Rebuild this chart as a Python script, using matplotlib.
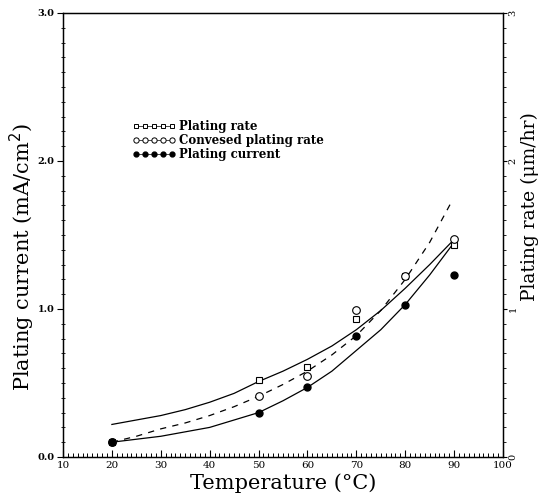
import matplotlib
matplotlib.use("Agg")
import matplotlib.pyplot as plt
from matplotlib.lines import Line2D
from matplotlib.ticker import MultipleLocator

# measured points
temp = [20, 50, 60, 70, 80, 90]
plating_rate = [0.10, 0.52, 0.61, 0.93, 1.22, 1.43]
conv_rate = [0.10, 0.41, 0.55, 0.99, 1.22, 1.47]
plating_current = [0.10, 0.30, 0.47, 0.82, 1.03, 1.23]

# fitted curves, every 5 degrees
fit_t = [20, 25, 30, 35, 40, 45, 50, 55, 60, 65, 70, 75, 80, 85, 90]
fit_upper = [0.22, 0.25, 0.28, 0.32, 0.37, 0.43, 0.51, 0.58, 0.66, 0.75, 0.86, 0.99, 1.14, 1.30, 1.47]
fit_lower = [0.10, 0.12, 0.14, 0.17, 0.20, 0.25, 0.30, 0.38, 0.47, 0.58, 0.72, 0.86, 1.03, 1.23, 1.45]
dash_t = [20, 25, 30, 35, 40, 45, 50, 55, 60, 65, 70, 75, 80, 85, 89.4]
fit_dash = [0.10, 0.14, 0.19, 0.23, 0.28, 0.34, 0.41, 0.49, 0.58, 0.69, 0.82, 0.99, 1.20, 1.45, 1.72]

serif = "DejaVu Serif"

fig = plt.figure(figsize=(5.39, 4.95), dpi=100)
ax = fig.add_axes([63 / 539, 38 / 495, 440 / 539, 444 / 495])

ax.plot(fit_t, fit_upper, color="black", lw=0.9)
ax.plot(fit_t, fit_lower, color="black", lw=0.9)
ax.plot(dash_t, fit_dash, color="black", lw=0.9, dashes=(5, 5))

ax.plot(temp, plating_rate, ls="none", marker="s", ms=5, mfc="white", mec="black", mew=0.8)
ax.plot(temp, conv_rate, ls="none", marker="o", ms=5.5, mfc="white", mec="black", mew=0.8)
ax.plot(temp, plating_current, ls="none", marker="o", ms=5, mfc="black", mec="black")

ax.set_xlim(10, 100)
ax.set_ylim(0, 3)
ax.xaxis.set_minor_locator(MultipleLocator(1))
ax.yaxis.set_minor_locator(MultipleLocator(0.1))
ax.set_yticks([0, 1, 2, 3])
ax.set_yticklabels(["0.0", "1.0", "2.0", "3.0"], fontsize=7, fontweight="bold", family=serif)
ax.set_xticks(range(10, 101, 10))
ax.set_xticklabels([str(v) for v in range(10, 101, 10)], fontsize=7.5, family=serif)
ax.tick_params(axis="x", which="major", direction="in", length=5, width=0.8, top=False, pad=3)
ax.tick_params(axis="x", which="minor", direction="in", length=3, width=0.7, top=False)
ax.tick_params(axis="y", which="major", direction="out", length=4, width=0.8, pad=2)
ax.tick_params(axis="y", which="minor", direction="inout", length=3, width=0.6)

for s in ax.spines.values():
    s.set_linewidth(1.0)

ax.set_xlabel("Temperature (°C)", fontsize=15, family=serif, va="center")
ax.xaxis.set_label_coords(0.5, -0.058)
ax.set_ylabel("Plating current (mA/cm$^2$)", fontsize=15, family=serif, va="center")
ax.yaxis.set_label_coords(-0.093, 0.45)

ax2 = ax.twinx()
ax2.set_ylim(0, 3)
ax2.yaxis.set_minor_locator(MultipleLocator(0.1))
ax2.set_yticks([0, 1, 2, 3])
ax2.set_yticklabels(["0", "1", "2", "3"], fontsize=7, family=serif, rotation=90, va="center")
ax2.tick_params(axis="y", which="major", direction="out", length=3, width=0.8, pad=1)
ax2.tick_params(axis="y", which="minor", direction="out", length=2, width=0.6)
ax2.set_ylabel("Plating rate (μm/hr)", fontsize=13.5, family=serif, rotation=90, va="center")
ax2.yaxis.set_label_coords(1.06, 0.563)

handles = [
    Line2D([], [], color="black", lw=0.5, marker="s", ms=3.5, mfc="white", mec="black", mew=0.7),
    Line2D([], [], color="black", lw=0.5, marker="o", ms=3.8, mfc="white", mec="black", mew=0.7),
    Line2D([], [], color="black", lw=0.5, marker="o", ms=3.5, mfc="black", mec="black"),
]
labels = ["Plating rate", "Convesed plating rate", "Plating current"]
leg = ax.legend(handles, labels, loc="upper left", bbox_to_anchor=(0.145, 0.772), frameon=False,
                numpoints=5, handlelength=3.6, handletextpad=0.3, labelspacing=0.1,
                borderpad=0, prop={"family": serif, "weight": "bold", "size": 8.5})

fig.savefig("out.png", dpi=100)
